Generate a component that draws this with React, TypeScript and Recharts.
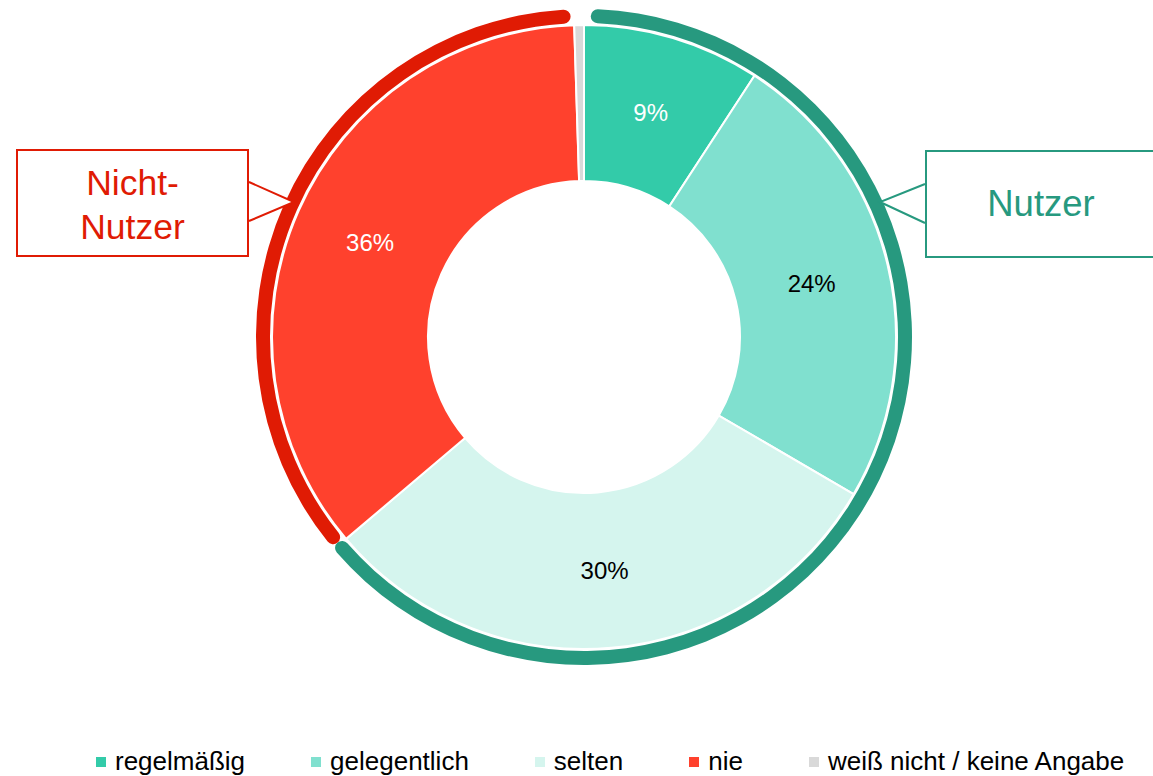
import { PieChart, Pie, Cell, Legend } from "recharts"

const categories = ["regelmäßig", "gelegentlich", "selten", "nie", "weiß nicht / keine Angabe"]
const shares = [9.2, 24.2, 30.4, 35.7, 0.5]
const shareLabels = ["9%", "24%", "30%", "36%", ""]
const sliceColors = ["#33CBA9", "#80E0CF", "#D5F5EE", "#FF412D", "#D9D9D9"]
const labelColors = ["#FFFFFF", "#000000", "#000000", "#FFFFFF", "#000000"]

// outer ring: users vs non-users, last entry is the empty gap at the top
const groupNames = ["Nutzer", "Nicht-Nutzer", ""]
const groupShares = [63.6, 35.4, 1.0]
const groupColors = ["#27997F", "#E01B04", "transparent"]

const font = "'Liberation Sans', Arial, sans-serif"

const sliceData = categories.map((name, i) => ({ name, value: shares[i] }))
const ringData = groupNames.map((name, i) => ({ name, value: groupShares[i] }))

const RAD = Math.PI / 180

function renderLabel(props: any) {
  const { cx, cy, midAngle, innerRadius, outerRadius, index } = props
  if (!shareLabels[index]) return null
  const r = (innerRadius + outerRadius) / 2
  const x = cx + r * Math.cos(-midAngle * RAD)
  const y = cy + r * Math.sin(-midAngle * RAD)
  return (
    <text
      x={x}
      y={y}
      fill={labelColors[index]}
      textAnchor="middle"
      dominantBaseline="central"
      fontSize={24}
      fontFamily={font}
    >
      {shareLabels[index]}
    </text>
  )
}

function LegendContent() {
  return (
    <div style={{ display: "flex", alignItems: "center", gap: 66, fontFamily: font, fontSize: 26, color: "#000" }}>
      {categories.map((c, i) => (
        <div key={c} style={{ display: "flex", alignItems: "center", gap: 9 }}>
          <span style={{ width: 10, height: 10, background: sliceColors[i], display: "inline-block" }} />
          <span>{c}</span>
        </div>
      ))}
    </div>
  )
}

export default function App() {
  return (
    <div style={{ position: "absolute", left: 0, top: 0, width: 1153, height: 776, overflow: "hidden", background: "#fff" }}>
      <PieChart width={1153} height={776} margin={{ top: 0, right: 0, bottom: 0, left: 0 }}>
        <Pie
          data={ringData}
          dataKey="value"
          cx={584}
          cy={337}
          innerRadius={314}
          outerRadius={328}
          startAngle={88.8}
          endAngle={-271.2}
          cornerRadius={7}
          stroke="none"
          isAnimationActive={false}
        >
          {ringData.map((d, i) => (
            <Cell key={i} fill={groupColors[i]} />
          ))}
        </Pie>
        <Pie
          data={sliceData}
          dataKey="value"
          cx={584}
          cy={337}
          innerRadius={156}
          outerRadius={312}
          startAngle={90}
          endAngle={-270}
          stroke="#FFFFFF"
          strokeWidth={2}
          label={renderLabel}
          labelLine={false}
          isAnimationActive={false}
        >
          {sliceData.map((d, i) => (
            <Cell key={i} fill={sliceColors[i]} />
          ))}
        </Pie>
        <Legend
          content={() => <LegendContent />}
          wrapperStyle={{ position: "absolute", left: 96, top: 746, width: 1057 }}
        />
      </PieChart>

      {/* callout pointers */}
      <svg width={1153} height={776} style={{ position: "absolute", left: 0, top: 0, pointerEvents: "none" }}>
        <polyline points="249,182 294,202 249,221" fill="#fff" stroke="#E01B04" strokeWidth={2} />
        <polyline points="925,184 880,202 925,223" fill="#fff" stroke="#27997F" strokeWidth={2} />
      </svg>

      <div
        style={{
          position: "absolute", left: 16, top: 149, width: 229, height: 101,
          border: "2px solid #E01B04", background: "#fff", color: "#E01B04",
          fontFamily: font, fontSize: 35.5, lineHeight: "44px", paddingTop: 3, boxSizing: "content-box",
          display: "flex", flexDirection: "column", alignItems: "center", justifyContent: "center",
        }}
      >
        <div>Nicht-</div>
        <div>Nutzer</div>
      </div>
      <div
        style={{
          position: "absolute", left: 925, top: 150, width: 228, height: 104,
          border: "2px solid #27997F", background: "#fff", color: "#27997F",
          fontFamily: font, fontSize: 36.5,
          display: "flex", alignItems: "center", justifyContent: "center",
        }}
      >
        Nutzer
      </div>
    </div>
  )
}
